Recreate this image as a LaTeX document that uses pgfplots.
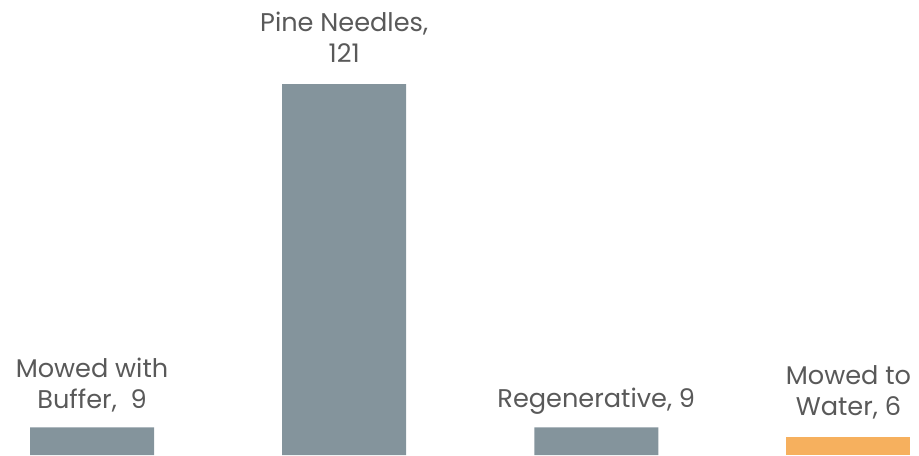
\documentclass[border=0pt]{standalone}
\usepackage{pgfplots}
\pgfplotsset{compat=1.18}
\usepackage{fontspec}
\setmainfont{Poppins}
\definecolor{bargray}{RGB}{132,148,156}
\definecolor{barorange}{RGB}{246,176,94}
\definecolor{txt}{RGB}{89,89,89}
\begin{document}
\begin{tikzpicture}
\begin{axis}[
  scale only axis,
  width=459.5pt, height=227.5pt,
  xmin=-0.365, xmax=3.28,
  ymin=0, ymax=148.4,
  hide axis,
  clip=false,
  ybar, bar width=62pt, bar shift=0pt,
]
\addplot[fill=bargray, draw=none] coordinates {(0,9) (1,121) (2,9)};
\addplot[fill=barorange, draw=none] coordinates {(3,6)};
\begin{scope}[every node/.style={font=\fontsize{12.8}{15.5}\selectfont, text=txt, align=center, anchor=south}]
\node at (axis cs:0,9) [yshift=4pt] {Mowed with\\Buffer,\ \ 9};
\node at (axis cs:1,121) [yshift=7pt] {Pine Needles,\\121};
\node at (axis cs:2,9) [yshift=3pt] {Regenerative, 9};
\node at (axis cs:3,6) [yshift=5pt] {Mowed to\\Water, 6};
\end{scope}
\end{axis}
\pgfresetboundingbox
\path[use as bounding box] (current axis.south west) rectangle (current axis.north east);
\end{tikzpicture}
\end{document}
